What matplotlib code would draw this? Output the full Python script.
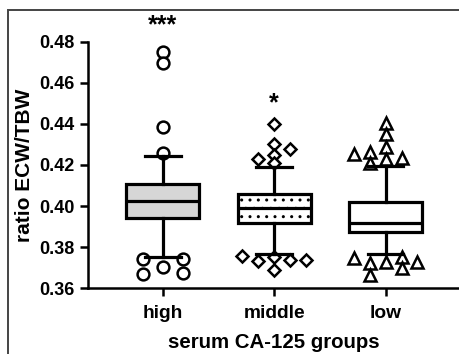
import matplotlib.pyplot as plt
from matplotlib.patches import Rectangle

plt.rcParams['font.family'] = ['Liberation Sans', 'DejaVu Sans']
plt.rcParams['font.weight'] = 'bold'
plt.rcParams['hatch.linewidth'] = 1.0

# box statistics
groups = ['high', 'middle', 'low']
q1 = [0.3941, 0.3916, 0.3875]
med = [0.4025, 0.3988, 0.3918]
q3 = [0.4107, 0.4058, 0.4020]
whis_lo = [0.3753, 0.3766, 0.3764]
whis_hi = [0.4244, 0.4192, 0.4195]

# outliers and their sideways slot (in marker steps)
high_out = [0.4752, 0.4698, 0.4385, 0.4258, 0.3741, 0.3668, 0.3702, 0.3741, 0.3673]
high_slot = [0, 0, 0, 0, -1.25, -1.25, 0, 1.25, 1.25]
middle_out = [0.4402, 0.4304, 0.4280, 0.4250, 0.4231, 0.4211,
              0.3756, 0.3732, 0.3751, 0.3688, 0.3737, 0.3737]
middle_slot = [0, 0, 1, 0, -1, 0, -2, -1, 0, 0, 1, 2]
low_out = [0.4405, 0.4351, 0.4288, 0.4263, 0.4253, 0.4234, 0.4229, 0.4210,
           0.3746, 0.3722, 0.3663, 0.3727, 0.3751, 0.3698, 0.3727]
low_slot = [0, 0, 0, -1, -2, 1, 0, -1, -2, -1, -1, 0, 1, 1, 2]

outliers = [high_out, middle_out, low_out]
slots = [high_slot, middle_slot, low_slot]
markers = ['o', 'D', '^']
marker_sizes = [8.5, 6.5, 8.5]
stars = ['***', '*', '']
star_y = [0.4880, 0.4500, 0]

fig = plt.figure(figsize=(4.59, 3.54), dpi=100)
ax = fig.add_axes([0.1917, 0.1864, 0.8083, 0.695])

# figure frame
fig.patches.append(Rectangle((0.0174, -0.05), 1.1, 0.05 + 0.9718, transform=fig.transFigure,
                             fill=False, edgecolor='#444444', linewidth=1.4))

pos = [1, 2, 3]
step = 0.1435

for i in range(3):
    x = [pos[i] + s * step for s in slots[i]]
    ax.plot(x, outliers[i], linestyle='none', marker=markers[i],
            markersize=marker_sizes[i], markerfacecolor='white',
            markeredgecolor='black', markeredgewidth=1.8, zorder=2)

stats = []
for i in range(3):
    stats.append(dict(med=med[i], q1=q1[i], q3=q3[i],
                      whislo=whis_lo[i], whishi=whis_hi[i], fliers=[]))

bp = ax.bxp(stats, positions=pos, widths=0.655, capwidths=0.32, patch_artist=True,
            showfliers=False,
            boxprops=dict(linewidth=2.3, edgecolor='black'),
            whiskerprops=dict(linewidth=2.3, color='black'),
            capprops=dict(linewidth=2.3, color='black'),
            medianprops=dict(linewidth=2.3, color='black'))
for b in bp['boxes'] + bp['whiskers'] + bp['caps'] + bp['medians']:
    b.set_zorder(3)

bp['boxes'][0].set_facecolor('#d6d6d6')
bp['boxes'][1].set_facecolor('white')
bp['boxes'][1].set_hatch('..')
bp['boxes'][2].set_facecolor('white')

for i in range(3):
    if stars[i]:
        ax.text(pos[i], star_y[i], stars[i], ha='center', va='center',
                fontsize=18, fontweight='bold', clip_on=False)

ax.set_ylim(0.36, 0.48)
ax.set_xlim(0.327, 3.66)
ax.set_yticks([0.36, 0.38, 0.40, 0.42, 0.44, 0.46, 0.48])
ax.set_yticklabels(['0.36', '0.38', '0.40', '0.42', '0.44', '0.46', '0.48'])
ax.set_xticks(pos)
ax.set_xticklabels(groups)
ax.tick_params(axis='both', width=1.8, length=6, labelsize=13, direction='out')
ax.tick_params(axis='x', labelsize=13.8, pad=6)

ax.spines['top'].set_visible(False)
ax.spines['right'].set_visible(False)
ax.spines['left'].set_linewidth(1.8)
ax.spines['bottom'].set_linewidth(1.8)

ax.set_ylabel('ratio ECW/TBW', fontsize=15, fontweight='bold', labelpad=4)
ax.set_xlabel('serum CA-125 groups', fontsize=14.7, fontweight='bold', labelpad=8)

fig.savefig('out.png', dpi=100)
